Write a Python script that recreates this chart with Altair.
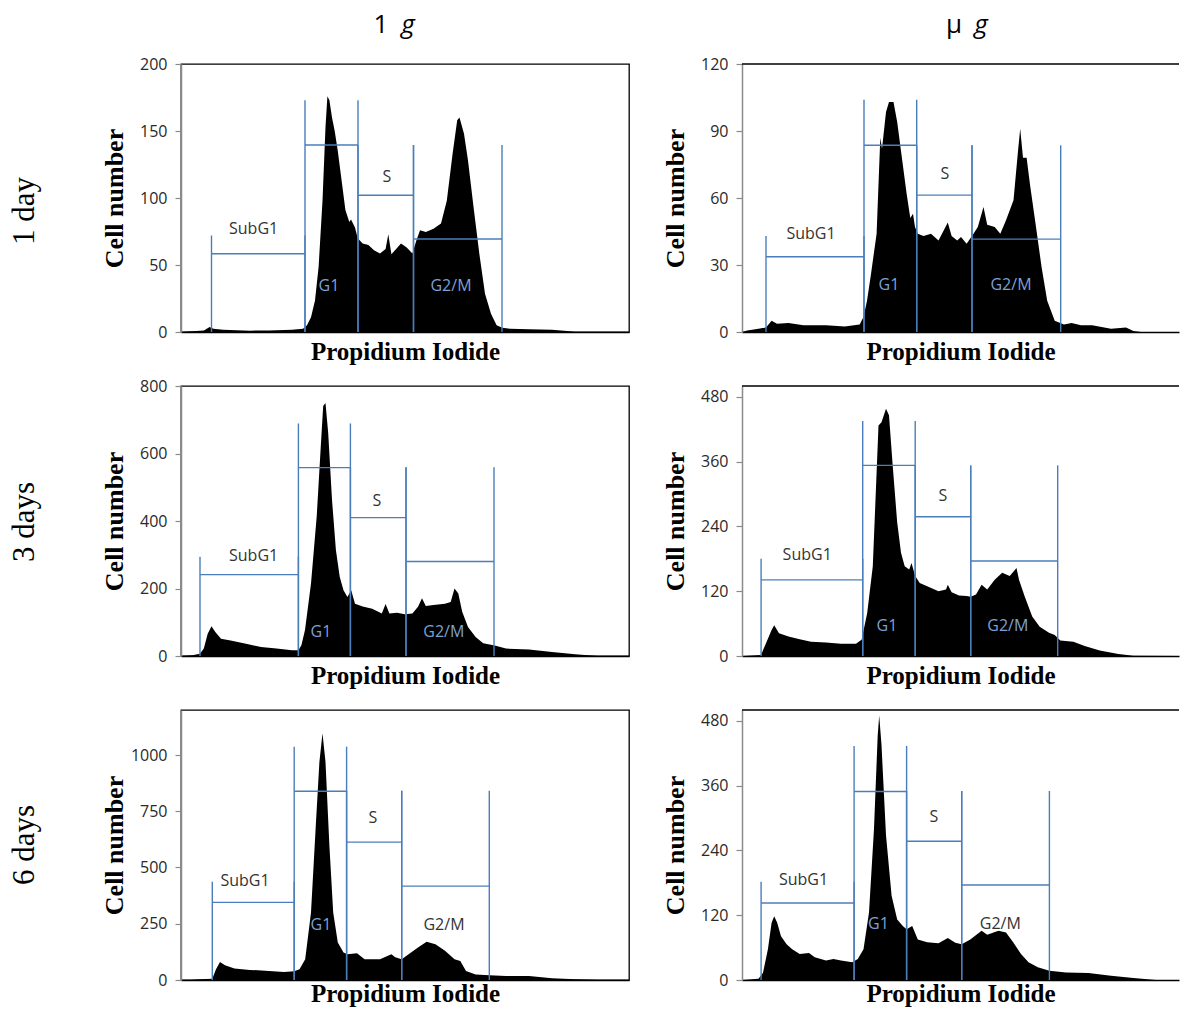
import altair as alt
import pandas as pd

GATES = ["SubG1", "G1", "S", "G2/M"]
DARK = "#333333"
BLUE = "#7da1d4"

# x = propidium iodide channel (arbitrary units, 1 unit per plot pixel)
# ---- 1 day, 1 g
P1_X = [0, 11, 23, 28.6, 32.4, 42, 69, 88, 111, 122,
        126, 130, 134, 137.6, 141.5, 144.5, 146.4, 148.4, 151, 153.7,
        156.8, 160.6, 164.4, 168.3, 170, 174, 176.7, 181.6, 187.4, 193,
        199, 204.6, 207.3, 210.4, 214, 220, 225.7, 231.4, 235.2, 239,
        244.8, 252.5, 260, 265.8, 271.6, 276.2, 278.5, 283, 287, 292.6,
        298.4, 304, 310, 315.6, 321.3, 329, 348, 371, 386, 394, 448]
P1_Y = [0, 0.5, 1.2, 3.7, 2.5, 1.7, 1, 1.2, 1.7, 2.5,
        5, 11, 23.6, 48.5, 98, 153, 176, 173, 160, 150,
        135, 113, 91, 82, 84, 78, 70, 66, 65, 61,
        58.5, 62, 73, 58, 61, 66, 63, 58.5, 68, 76,
        74.6, 77, 81, 98, 133, 158, 160, 148, 128, 93,
        58, 28.6, 13.7, 5, 3.2, 2.5, 2, 1.7, 0.7, 0, 0]
P1_EDGES = [30.5, 124, 177, 232.5, 321]
P1_VTOP = [72, 173, 139.5, 139.5]
P1_HLEV = [58.4, 139.5, 102, 69.4]
P1_LX = [72.6, 148, 206, 270]
P1_LY = [77, 34, 116, 34]
P1_LC = [DARK, BLUE, DARK, BLUE]

# ---- 1 day, micro g
P2_X = [0, 5.2, 16.5, 24, 29.6, 35, 46.5, 61.5, 84, 102.7,
        117.7, 121.5, 125, 129, 134.6, 138.3, 140, 144, 147, 151.5,
        155.2, 159, 164.6, 168.3, 171, 173, 175.8, 181.5, 189, 196.5,
        205.8, 209.6, 215.2, 219, 224.6, 230, 235.8, 241.5, 245.2, 252.7,
        258.3, 264, 271.5, 276, 278.2, 281, 284.6, 288.3, 294, 299.6,
        305.2, 312.7, 322, 329.6, 339, 350.2, 369, 384, 391.4, 399, 437]
P2_Y = [0, 0.7, 1.5, 2, 5, 3.7, 4, 3, 3, 2.5,
        3.4, 6.7, 14, 26, 44, 87, 82, 98.5, 103, 103,
        94, 81, 62, 51, 53, 47, 44, 43, 44, 41,
        49, 43, 41, 42.5, 39.5, 43, 47, 56, 48, 47,
        44, 50, 59, 81, 91, 78, 78, 65, 47, 29,
        14, 5, 3.4, 4, 3, 3, 1.5, 2, 0.5, 0, 0]
P2_EDGES = [24, 122, 174.7, 230, 318.7]
P2_VTOP = [43, 104, 83.6, 83.6]
P2_HLEV = [33.7, 83.6, 61.3, 41.6]
P2_LX = [69, 147, 203, 269]
P2_LY = [43.7, 21, 70.6, 21]
P2_LC = [DARK, BLUE, DARK, BLUE]

# ---- 3 days, 1 g
P3_X = [0, 11.3, 19, 22.8, 26.7, 30.5, 34.3, 40, 49.6, 65,
        80, 95.5, 111, 117.4, 120.4, 124, 130, 135.7, 139.6, 142.2,
        144.5, 147.2, 151, 154.9, 158.7, 162.5, 166.4, 170.2, 174, 181.7,
        191.2, 200.8, 204.6, 208.4, 216, 223.7, 231.4, 237, 241, 244.8,
        252.5, 264, 269.7, 273.5, 277.3, 281.2, 287, 294.6, 302.2, 313.7,
        325, 348, 371, 394, 417, 448]
P3_Y = [0, 2, 7, 22, 66, 88, 71, 51, 46, 36,
        27, 22, 17, 17, 32, 77, 215, 413, 612, 741,
        750, 661, 463, 314, 235, 195, 175, 195, 155, 147,
        140, 126, 154, 126, 128, 124, 126, 146, 171, 148,
        151, 155, 160, 200, 185, 131, 86, 56, 38, 31,
        22, 19, 12, 5, 0, 0]
P3_EDGES = [19, 117.4, 169.4, 225, 313]
P3_VTOP = [294, 689, 559, 559]
P3_HLEV = [241, 558, 410, 280]
P3_LX = [72.6, 140, 195.8, 262.8]
P3_LY = [297, 71, 458, 71]
P3_LC = [DARK, BLUE, DARK, BLUE]

# ---- 3 days, micro g
P4_X = [0, 9, 19, 24, 29.6, 32.2, 37, 46.5, 57.7, 69,
        84, 99, 114, 119.6, 125.2, 130.8, 136.5, 139.5, 144, 147,
        150.7, 155.2, 159, 162.7, 167.2, 169.5, 173.2, 177.7, 185.2, 196.5,
        204, 205.8, 209.6, 217, 224.6, 228.7, 234, 239.6, 245.2, 252.7,
        260.2, 267.7, 274.5, 277, 282.7, 290.2, 297.7, 307, 312.7, 318.3,
        331.4, 342.7, 357.7, 376.4, 391.4, 437]
P4_Y = [0, 1, 2, 23.6, 48, 57, 42, 36, 31, 26.5,
        25, 22.6, 22.6, 30, 79.5, 166, 427, 433, 458, 446,
        353, 247, 191, 166, 160, 172, 148, 135, 129, 120,
        123, 132, 118, 112, 111, 109.5, 114, 132, 123, 141,
        154, 148, 163, 141, 110, 73, 54, 43, 39, 28.5,
        26.5, 18.6, 10, 3.7, 0.6, 0]
P4_EDGES = [19.1, 120.7, 173.2, 228.7, 315.7]
P4_VTOP = [180, 435, 353, 353]
P4_HLEV = [141, 353, 258, 176]
P4_LX = [65.2, 145, 201, 265.8]
P4_LY = [187, 55, 297, 55]
P4_LC = [DARK, BLUE, DARK, BLUE]

# ---- 6 days, 1 g
P5_X = [9.4, 19, 31.3, 35, 39, 44, 53.4, 68.8, 88, 103,
        113.2, 118.5, 124.2, 130, 134.6, 138.4, 141.5, 144.5, 148.4, 152.2,
        156.8, 162.5, 166.4, 176, 183.6, 199, 210.4, 214.2, 220.7, 227.6,
        237, 245.6, 254.4, 264, 273.5, 279.3, 285, 294.6, 308.3, 325,
        348, 371, 394, 417, 448]
P5_Y = [0, 3, 6, 48, 80, 66, 51, 45, 40, 36,
        39, 48, 92, 300, 671, 969, 1097, 969, 597, 300,
        167, 122, 115, 119, 92, 92, 115, 101, 92, 115,
        144, 170, 159, 130, 92, 85, 40, 25, 21, 18,
        18, 7.5, 3, 0, 0]
P5_EDGES = [31.3, 113.2, 165.6, 220.7, 308.3]
P5_VTOP = [437, 1037, 841, 841]
P5_HLEV = [345, 839, 613, 417]
P5_LX = [64, 140, 192, 263]
P5_LY = [439, 245, 719, 245]
P5_LC = [DARK, BLUE, DARK, DARK]

# ---- 6 days, micro g
P6_X = [0, 16.5, 21, 25.9, 29.6, 32.2, 35.2, 39, 44.6, 50.2,
        57.7, 67, 72.7, 84, 91.5, 99, 110.2, 115.8, 121.5, 127,
        132, 135.7, 137.2, 139.5, 144, 149.6, 155.2, 160.8, 164.6, 170.2,
        175.8, 185.2, 196.5, 205.8, 213.3, 219.7, 228.3, 239.6, 245.2, 256.5,
        264, 271.5, 279, 286.5, 295.8, 307.4, 324, 346.5, 369, 391.4,
        414, 437]
P6_Y = [0, 2.5, 13.6, 57, 106, 118, 106, 81, 66, 57,
        48, 50, 42, 35.9, 39, 36, 32.8, 39, 57, 125,
        280, 453, 490, 435, 268, 156, 112, 100, 94, 100,
        75, 70, 68, 78, 69, 66, 75, 91, 84, 91,
        88, 69, 48, 32.8, 23.5, 17.3, 14, 13, 8, 3.7,
        0, 0]
P6_EDGES = [19.1, 112.1, 164.6, 219.7, 307.4]
P6_VTOP = [182, 433.5, 350, 350]
P6_HLEV = [142.5, 349, 257, 176]
P6_LX = [61.5, 136.5, 192, 258.3]
P6_LY = [185, 103.5, 301, 103.5]
P6_LC = [DARK, BLUE, DARK, DARK]

ROW_LABELS = ["1 day", "3 days", "6 days"]
Y_MAX = [200, 120, 800, 500, 1200, 500]
Y_TICKS = [[0, 50, 100, 150, 200], [0, 30, 60, 90, 120],
           [0, 200, 400, 600, 800], [0, 120, 240, 360, 480],
           [0, 250, 500, 750, 1000], [0, 120, 240, 360, 480]]

COL_W = [448, 437]
ROW_H = [268, 270, 270]
ROW_LABEL_Y = [147, 136, 135]
X_TITLE_PAD = [7, 7, 1]
GATE_COLOR = "#4a7ebb"


def panel(px, py, edges, vtop, hlev, lx, ly, lc, ymax, yticks, col, row):
    width = COL_W[col]
    height = ROW_H[row]
    xs = alt.Scale(domain=[0, width], nice=False, zero=False)
    ys = alt.Scale(domain=[0, ymax], nice=False)
    xaxis = alt.Axis(title="Propidium Iodide", labels=False, ticks=False, grid=False,
                     domain=True, domainColor="#000000", domainWidth=1.5,
                     titleFont="Liberation Serif", titleFontSize=25, titleFontWeight="bold",
                     titleColor="#000000", titlePadding=X_TITLE_PAD[row])
    yaxis = alt.Axis(title="Cell number", values=yticks, format="d", grid=False,
                     domainColor="#8a8a8a", domainWidth=1.5, tickColor="#8a8a8a",
                     tickSize=6, tickWidth=1.2, labelFont="Open Sans", labelFontSize=16,
                     labelColor="#2a2a2a", labelPadding=8,
                     titleFont="Liberation Serif", titleFontSize=26, titleFontWeight="bold",
                     titleColor="#000000", titleAngle=270, titleX=-67, titleY=height / 2,
                     titleAlign="center", titleBaseline="middle")

    def X(f):
        return alt.X(f"{f}:Q", scale=xs, axis=xaxis)

    def Y(f):
        return alt.Y(f"{f}:Q", scale=ys, axis=yaxis)

    hist = pd.DataFrame({"x": px, "y": py})
    gates = pd.DataFrame({"gate": GATES, "x0": edges[:-1], "x1": edges[1:],
                          "h": hlev, "lx": lx, "ly": ly, "lc": lc})
    vlines = pd.DataFrame({"x": list(edges[:-1]) + list(edges[1:]),
                           "top": list(vtop) + list(vtop),
                           "base": [0] * 8})

    area = alt.Chart(hist).mark_area(color="black", interpolate="linear").encode(
        x=X("x"), y=Y("y"))
    vr = alt.Chart(vlines).mark_rule(color=GATE_COLOR, strokeWidth=1.4).encode(
        x=X("x"), y=Y("base"), y2=alt.Y2("top:Q"))
    hr = alt.Chart(gates).mark_rule(color=GATE_COLOR, strokeWidth=1.4).encode(
        x=X("x0"), x2=alt.X2("x1:Q"), y=Y("h"))
    txt = alt.Chart(gates).mark_text(font="Open Sans", fontSize=16, align="center",
                                     baseline="middle").encode(
        x=X("lx"), y=Y("ly"), text="gate:N", color=alt.Color("lc:N", scale=None))
    layers = [area, vr, hr, txt]

    if col == 0:
        lab = alt.Chart(pd.DataFrame({"t": [ROW_LABELS[row]]})).mark_text(
            angle=270, font="Liberation Serif", fontSize=31, align="center",
            baseline="middle", color="black").encode(
            x=alt.value(-156), y=alt.value(ROW_LABEL_Y[row]), text="t:N")
        layers.append(lab)
    else:
        top = alt.Chart(pd.DataFrame({"a": [0]})).mark_rule(
            color="black", strokeWidth=1.3).encode(
            x=alt.value(0), x2=alt.value(width), y=alt.value(0))
        layers.append(top)

    if row == 0:
        if col == 0:
            parts = [("1", "normal", 200), ("g", "italic", 227)]
            anchor = alt.Chart(pd.DataFrame({"a": [0]})).mark_rule(opacity=0).encode(
                x=alt.value(-172), y=alt.value(-55), y2=alt.value(0))
            layers.append(anchor)
        else:
            parts = [("\u03bc", "normal", 212), ("g", "italic", 239)]
        for t, style, xpos in parts:
            layers.append(alt.Chart(pd.DataFrame({"t": [t]})).mark_text(
                font="Open Sans", fontSize=26, fontStyle=style, align="center",
                baseline="alphabetic", color="black").encode(
                x=alt.value(xpos), y=alt.value(-31), text="t:N"))

    ch = alt.layer(*layers).properties(width=width, height=height)
    if col == 0:
        ch = ch.properties(view=alt.ViewBackground(stroke="black", strokeWidth=1.3))
    return ch


panels = [
    panel(P1_X, P1_Y, P1_EDGES, P1_VTOP, P1_HLEV, P1_LX, P1_LY, P1_LC, Y_MAX[0], Y_TICKS[0], 0, 0),
    panel(P2_X, P2_Y, P2_EDGES, P2_VTOP, P2_HLEV, P2_LX, P2_LY, P2_LC, Y_MAX[1], Y_TICKS[1], 1, 0),
    panel(P3_X, P3_Y, P3_EDGES, P3_VTOP, P3_HLEV, P3_LX, P3_LY, P3_LC, Y_MAX[2], Y_TICKS[2], 0, 1),
    panel(P4_X, P4_Y, P4_EDGES, P4_VTOP, P4_HLEV, P4_LX, P4_LY, P4_LC, Y_MAX[3], Y_TICKS[3], 1, 1),
    panel(P5_X, P5_Y, P5_EDGES, P5_VTOP, P5_HLEV, P5_LX, P5_LY, P5_LC, Y_MAX[4], Y_TICKS[4], 0, 2),
    panel(P6_X, P6_Y, P6_EDGES, P6_VTOP, P6_HLEV, P6_LX, P6_LY, P6_LC, Y_MAX[5], Y_TICKS[5], 1, 2),
]

chart = alt.concat(*panels, columns=2, bounds="flush", align="each",
                   spacing={"row": 54, "column": 113}).properties(
    padding=0, background="white").configure_view(stroke=None)

chart.save("out.html", embed_options={"renderer": "svg", "actions": False})
